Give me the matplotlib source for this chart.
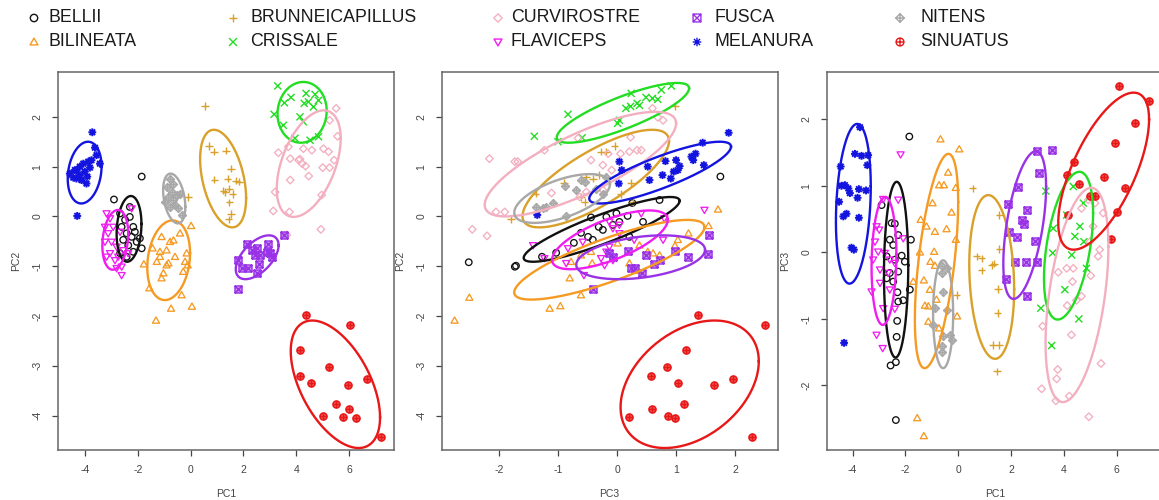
import numpy as np
import matplotlib
matplotlib.use("Agg")
import matplotlib.pyplot as plt
from matplotlib.path import Path

plt.rcParams["font.family"] = ["Liberation Sans", "DejaVu Sans"]

SPECIES = ["BELLII", "BILINEATA", "BRUNNEICAPILLUS", "CRISSALE", "CURVIROSTRE",
           "FLAVICEPS", "FUSCA", "MELANURA", "NITENS", "SINUATUS"]
COLORS = ["#111111", "#F59A23", "#D9A02A", "#22DD22", "#F3AFC0",
          "#F01DF0", "#9932E6", "#1414E0", "#A8A8A8", "#E81818"]

# PC1 vs PC2 scores
PC1_PC2 = {
    "BELLII": [(-1.85, 0.80), (-2.90, 0.34), (-2.67, 0.06), (-2.48, -0.07), (-2.30, -0.01), (-2.17, -0.21),
               (-2.42, -0.34), (-2.55, -0.47), (-2.23, -0.41), (-2.04, -0.51), (-1.92, -0.44), (-2.36, -0.58),
               (-2.17, -0.71), (-1.85, -0.64), (-2.61, -0.21), (-2.30, 0.19), (-2.42, -0.81), (-2.67, -0.74),
               (-2.11, -0.31)],
    "BILINEATA": [(0.02, -0.19), (-0.40, -0.34), (-1.10, -0.41), (-0.78, -0.51), (-0.65, -0.48), (-1.44, -0.64),
                  (-1.16, -0.71), (-0.91, -0.68), (-0.15, -0.74), (-1.77, -0.96), (-1.28, -0.91), (-0.91, -0.98),
                  (-0.28, -1.11), (-0.11, -0.98), (-1.10, -1.24), (-1.56, -1.44), (-0.74, -1.85), (-0.34, -1.58),
                  (0.05, -1.81), (-1.31, -2.09), (-1.16, -0.81), (-0.84, -0.94), (-0.59, -0.81), (-0.21, -0.91),
                  (-1.03, -1.14)],
    "BRUNNEICAPILLUS": [(0.55, 2.22), (0.70, 1.41), (0.89, 1.30), (1.33, 1.32), (1.53, 0.96), (0.90, 0.74),
                        (1.40, 0.76), (1.72, 0.72), (1.83, 0.70), (1.24, 0.52), (1.47, 0.56), (1.59, 0.45),
                        (1.47, 0.28), (1.52, 0.05), (1.44, -0.06), (-0.09, 0.39), (1.32, 0.49)],
    "CRISSALE": [(3.30, 2.62), (3.16, 2.05), (3.55, 2.28), (3.80, 2.39), (4.37, 2.47), (4.71, 2.45),
                 (4.84, 2.33), (4.46, 2.30), (4.65, 2.20), (4.14, 2.00), (4.27, 1.90), (3.51, 1.83),
                 (3.95, 1.57), (4.52, 1.53), (4.84, 1.60), (4.30, 2.27)],
    "CURVIROSTRE": [(5.51, 2.17), (5.26, 1.93), (5.56, 1.61), (3.32, 1.28), (3.70, 1.40), (4.27, 1.36),
                    (4.59, 1.33), (5.03, 1.36), (5.22, 1.30), (3.77, 1.16), (4.09, 1.13), (4.22, 1.06),
                    (4.35, 1.01), (5.00, 0.98), (5.26, 0.98), (5.43, 1.13), (4.47, 0.81), (3.77, 0.73),
                    (3.20, 0.49), (4.96, 0.43), (3.13, 0.11), (3.74, 0.09), (4.93, -0.26), (3.64, -0.37),
                    (4.14, 1.15)],
    "FLAVICEPS": [(-3.18, 0.06), (-3.05, -0.04), (-3.24, -0.51), (-3.12, -0.34), (-2.93, -0.21), (-2.80, -0.61),
                  (-3.05, -0.74), (-2.86, -0.88), (-2.61, -1.01), (-2.61, -1.18), (-2.74, -0.81), (-2.55, -0.68),
                  (-3.18, -0.81), (-2.99, -0.51), (-2.67, -0.31), (-2.23, 0.16), (-3.24, -0.21), (-2.36, -0.74),
                  (-2.80, -1.04)],
    "FUSCA": [(3.54, -0.37), (2.14, -0.55), (2.94, -0.56), (1.81, -0.88), (2.31, -0.68), (2.50, -0.64),
              (2.44, -0.78), (2.63, -0.78), (2.89, -0.71), (2.60, -0.96), (2.19, -1.04), (1.93, -1.04),
              (2.50, -1.14), (3.07, -0.81), (1.78, -1.45), (3.01, -0.74)],
    "MELANURA": [(-4.57, 0.86), (-4.38, 0.93), (-4.19, 1.00), (-4.06, 1.06), (-3.87, 1.10), (-3.75, 1.13),
                 (-3.56, 1.23), (-3.43, 1.06), (-4.32, 0.76), (-4.13, 0.73), (-3.94, 0.66), (-4.44, 0.78),
                 (-4.00, 0.90), (-3.81, 0.98), (-3.62, 1.38), (-3.72, 1.69), (-4.29, 0.01), (-4.19, 0.83),
                 (-3.91, 0.80), (-4.32, 0.93)],
    "NITENS": [(-0.78, 0.76), (-0.65, 0.66), (-0.91, 0.60), (-0.72, 0.50), (-0.53, 0.43), (-0.40, 0.46),
               (-0.97, 0.29), (-0.59, 0.23), (-0.78, 0.19), (-0.46, 0.16), (-0.34, 0.03), (-0.65, 0.33),
               (-0.84, 0.39)],
    "SINUATUS": [(4.37, -1.98), (6.05, -2.19), (4.14, -2.68), (4.14, -3.20), (5.22, -3.02), (4.56, -3.35),
                 (5.94, -3.38), (6.67, -3.27), (5.51, -3.77), (6.01, -3.87), (5.00, -4.01), (5.75, -4.03),
                 (6.27, -4.05), (7.21, -4.42)],
}

# PC3 vs PC2 scores
PC3_PC2 = {
    "BELLII": [(1.75, 0.80), (0.72, 0.33), (0.26, 0.27), (-0.44, -0.02), (-0.01, 0.06), (0.18, 0.01),
               (0.44, -0.11), (-0.31, -0.21), (-0.24, -0.27), (-0.61, -0.33), (-0.49, -0.41), (-0.41, -0.47),
               (-0.73, -0.53), (-1.03, -0.73), (-1.27, -0.81), (-1.71, -0.99), (-2.51, -0.92), (-1.73, -1.01),
               (0.21, -0.41), (-0.07, -0.17), (0.04, -0.11), (-0.18, -0.01)],
    "BILINEATA": [(1.71, 0.14), (1.55, -0.19), (1.21, -0.34), (1.03, -0.47), (0.98, -0.59), (0.61, -0.74),
                  (0.38, -0.58), (0.52, -0.71), (0.01, -0.54), (-0.44, -0.71), (-0.61, -0.78), (-0.78, -0.91),
                  (-0.42, -0.94), (0.21, -0.94), (-0.80, -1.24), (-0.61, -1.58), (-1.14, -1.85), (-0.96, -1.80),
                  (-2.50, -1.63), (-2.75, -2.09), (0.72, -0.78), (0.34, -1.09)],
    "BRUNNEICAPILLUS": [(0.98, 2.22), (-0.04, 1.41), (-0.27, 1.30), (-0.18, 1.30), (-0.53, 0.80), (-0.90, 0.68),
                        (0.24, 0.68), (0.06, 0.45), (-1.38, 0.46), (-0.61, 0.39), (-0.55, 0.29), (-1.79, -0.06),
                        (-0.30, 0.83), (0.27, 0.29), (-0.41, 0.76)],
    "CRISSALE": [(0.92, 2.62), (0.75, 2.54), (0.60, 2.37), (0.69, 2.35), (0.34, 2.27), (0.23, 2.21),
                 (0.15, 2.17), (0.38, 2.23), (0.01, 1.87), (0.04, 1.93), (-0.83, 2.05), (-1.40, 1.61),
                 (-1.00, 1.50), (-0.59, 1.58), (0.24, 2.47), (0.49, 2.39)],
    "CURVIROSTRE": [(0.60, 2.17), (0.69, 1.99), (0.78, 1.93), (0.23, 1.59), (0.06, 1.26), (0.21, 1.30),
                    (0.34, 1.33), (0.41, 1.33), (-0.44, 1.13), (-0.24, 1.03), (-0.15, 1.26), (-0.09, 0.93),
                    (-0.66, 1.57), (-1.23, 1.33), (-1.73, 1.10), (-1.68, 1.10), (-2.16, 1.16), (-2.05, 0.09),
                    (-1.90, 0.09), (-1.11, 0.47), (-2.45, -0.26), (-2.20, -0.39), (-0.63, 0.39), (-0.52, 0.49),
                    (-0.24, 0.53)],
    "FLAVICEPS": [(1.48, 0.13), (0.80, -0.04), (0.41, 0.06), (-0.13, -0.11), (0.04, -0.17), (-0.07, -0.24),
                  (-1.42, -0.58), (-0.83, -0.64), (-0.58, -0.51), (-0.13, -0.61), (-0.18, -0.71), (-0.27, -0.84),
                  (-0.07, -0.88), (-0.21, -0.98), (-0.86, -0.94), (-0.56, -1.18), (0.29, -0.47), (0.78, -0.47),
                  (0.04, -0.34), (-1.23, -0.84)],
    "FUSCA": [(1.55, -0.37), (1.54, -0.76), (1.20, -0.82), (0.99, -0.70), (0.73, -0.88), (0.49, -0.78),
              (0.63, -0.96), (0.18, -0.70), (0.30, -1.04), (0.23, -1.04), (0.43, -1.14), (-0.40, -1.45),
              (-0.14, -0.74), (-0.07, -0.81)],
    "MELANURA": [(1.89, 1.68), (1.45, 1.48), (1.33, 1.26), (1.29, 1.13), (1.47, 1.03), (1.00, 1.13),
                 (1.03, 0.93), (0.96, 0.90), (0.91, 0.76), (0.77, 0.83), (0.52, 1.00), (0.55, 0.73),
                 (0.08, 0.93), (0.04, 1.10), (0.03, 0.66), (-1.35, 0.03), (0.82, 1.11), (1.26, 1.20),
                 (1.06, 1.01)],
    "NITENS": [(-1.37, 0.18), (-1.26, 0.16), (-1.09, 0.26), (-0.86, 0.01), (-0.88, 0.61), (-0.61, 0.74),
               (-0.55, 0.70), (-0.35, 0.56), (-0.24, 0.46), (-0.18, 0.80), (-0.69, 0.53), (-1.20, 0.19)],
    "SINUATUS": [(1.37, -1.98), (2.51, -2.19), (1.17, -2.68), (0.84, -3.02), (0.57, -3.20), (1.03, -3.35),
                 (1.65, -3.38), (1.96, -3.27), (1.13, -3.77), (0.60, -3.87), (0.86, -4.01), (0.98, -4.05),
                 (0.21, -4.03), (2.29, -4.42)],
}

# PC1 vs PC3 scores
PC1_PC3 = {
    "BELLII": [(-1.85, 1.74), (-2.90, 0.71), (-2.52, 0.44), (-2.40, 0.43), (-2.27, 0.26), (-1.79, 0.19),
               (-2.59, 0.19), (-2.46, 0.11), (-2.14, -0.05), (-2.02, -0.14), (-2.27, -0.29), (-2.71, -0.39),
               (-2.59, -0.31), (-2.46, -0.44), (-1.83, -0.56), (-2.30, -0.60), (-2.08, -0.72), (-2.27, -0.74),
               (-2.31, -1.03), (-2.33, -1.27), (-2.36, -1.65), (-2.56, -1.70), (-2.36, -2.52), (-2.71, -0.06),
               (-2.40, -0.11)],
    "BILINEATA": [(-0.67, 1.70), (0.04, 1.55), (-0.38, 1.20), (-0.72, 1.01), (-0.54, 1.01), (-0.09, 0.97),
                  (-0.97, 0.74), (-1.42, 0.49), (-0.25, 0.60), (-1.20, 0.39), (-0.88, 0.31), (-0.44, 0.35),
                  (-0.09, 0.19), (-1.45, 0.00), (-0.91, 0.01), (-1.05, -0.14), (-0.88, -0.20), (-1.30, -0.42),
                  (-1.70, -0.44), (-1.07, -0.56), (-0.82, -0.71), (-1.26, -0.80), (-1.13, -1.04), (-0.73, -1.14),
                  (-0.04, -0.96), (-1.55, -2.49), (-1.30, -2.76), (-1.13, -0.81)],
    "BRUNNEICAPILLUS": [(0.55, 0.96), (0.70, -0.06), (0.89, -0.09), (0.89, -0.27), (1.27, -0.19), (1.35, -0.17),
                        (1.56, 0.05), (1.56, 0.56), (1.52, -0.55), (1.49, -0.91), (1.33, -1.39), (1.56, -1.39),
                        (1.48, -1.79), (-0.06, -0.64)],
    "CRISSALE": [(4.36, 0.99), (3.32, 0.92), (4.74, 0.74), (4.61, 0.39), (3.60, 0.36), (4.42, 0.24),
                 (4.76, 0.16), (4.30, -0.04), (3.58, -0.01), (4.86, -0.24), (4.04, -0.56), (3.13, -0.84),
                 (4.57, -1.00), (3.54, -1.40), (4.11, 0.56)],
    "CURVIROSTRE": [(4.93, 0.79), (5.18, 0.74), (5.49, 0.59), (5.11, 0.39), (4.67, 0.66), (4.99, 0.16),
                    (5.30, -0.06), (5.36, 0.04), (4.11, -0.24), (4.36, -0.24), (3.79, -0.30), (5.02, -0.35),
                    (4.33, -0.44), (4.67, -0.66), (4.48, -0.72), (4.13, -0.80), (4.29, -1.24), (3.20, -1.11),
                    (5.41, -1.67), (3.77, -1.76), (3.73, -1.90), (3.16, -2.05), (3.70, -2.23), (4.21, -2.16),
                    (4.95, -2.47)],
    "FLAVICEPS": [(-2.18, 1.47), (-2.84, 0.80), (-2.27, 0.79), (-3.09, 0.39), (-2.99, 0.34), (-2.08, 0.21),
                  (-3.15, 0.16), (-3.03, 0.01), (-2.78, -0.01), (-3.22, -0.11), (-2.59, -0.11), (-2.40, -0.16),
                  (-2.96, -0.26), (-2.65, -0.31), (-2.96, -0.46), (-2.59, -0.56), (-3.28, -0.59), (-2.84, -0.84),
                  (-2.40, -0.85), (-3.09, -1.24), (-2.86, -1.44)],
    "FUSCA": [(2.97, 1.53), (3.56, 1.54), (3.07, 1.19), (2.28, 0.98), (2.62, 0.64), (2.41, 0.48),
              (2.51, 0.43), (1.90, 0.73), (1.94, 0.30), (2.22, 0.23), (2.91, 0.17), (2.16, -0.15),
              (2.57, -0.15), (2.97, -0.14), (1.80, -0.40), (2.62, -0.66)],
    "MELANURA": [(-3.72, 1.88), (-3.91, 1.48), (-3.66, 1.45), (-3.41, 1.46), (-4.45, 1.29), (-3.44, 1.31),
                 (-4.29, 1.01), (-4.42, 1.00), (-4.16, 0.96), (-4.10, 0.89), (-3.76, 0.95), (-3.49, 0.93),
                 (-3.81, 0.82), (-4.51, 0.76), (-4.23, 0.58), (-4.35, 0.54), (-3.76, 0.52), (-4.04, 0.07),
                 (-3.95, 0.04), (-4.32, -1.36)],
    "NITENS": [(-0.63, -0.21), (-0.44, -0.24), (-0.63, -0.31), (-0.57, -0.59), (-0.88, -0.84), (-0.44, -0.86),
               (-0.94, -1.09), (-0.57, -1.26), (-0.31, -1.24), (-0.25, -1.31), (-0.63, -1.49), (-0.63, -1.41)],
    "SINUATUS": [(6.10, 2.50), (7.24, 2.28), (6.69, 1.95), (5.94, 1.65), (4.38, 1.36), (4.11, 1.16),
                 (5.52, 1.13), (4.59, 1.02), (6.32, 0.97), (4.99, 0.85), (5.19, 0.85), (4.17, 0.56),
                 (6.03, 0.60), (5.79, 0.20)],
}

# ellipses per group: centre x, centre y, half-width, half-height, correlation
ELL_PC1_PC2 = {
    "BELLII": (-2.33, -0.25, 0.47, 0.66, 0.15), "BILINEATA": (-0.83, -0.88, 0.81, 0.80, 0.18),
    "BRUNNEICAPILLUS": (1.23, 0.76, 0.87, 0.98, -0.40), "CRISSALE": (4.22, 2.09, 0.93, 0.61, 0.05),
    "CURVIROSTRE": (4.47, 1.06, 1.21, 1.07, 0.47), "FLAVICEPS": (-2.85, -0.47, 0.49, 0.60, 0.20),
    "FUSCA": (2.52, -0.82, 0.81, 0.44, 0.55), "MELANURA": (-4.01, 0.88, 0.64, 0.62, 0.20),
    "NITENS": (-0.62, 0.36, 0.42, 0.50, -0.33), "SINUATUS": (5.48, -3.37, 1.69, 1.28, -0.52),
}
ELL_PC3_PC2 = {
    "BELLII": (-0.26, -0.26, 1.32, 0.65, 0.88), "BILINEATA": (-0.13, -0.87, 1.61, 0.80, 0.82),
    "BRUNNEICAPILLUS": (-0.36, 0.76, 1.24, 0.98, 0.77), "CRISSALE": (0.10, 2.08, 1.12, 0.60, 0.82),
    "CURVIROSTRE": (-0.62, 1.05, 1.62, 1.05, 0.78), "FLAVICEPS": (-0.12, -0.47, 0.98, 0.59, 0.68),
    "FUSCA": (0.40, -0.82, 1.09, 0.44, 0.34), "MELANURA": (0.73, 0.88, 1.20, 0.62, 0.84),
    "NITENS": (-0.93, 0.36, 0.81, 0.49, 0.58), "SINUATUS": (1.23, -3.37, 1.17, 1.28, 0.36),
}
ELL_PC1_PC3 = {
    "BELLII": (-2.35, -0.26, 0.46, 1.32, 0.05), "BILINEATA": (-0.82, -0.13, 0.82, 1.61, 0.55),
    "BRUNNEICAPILLUS": (1.27, -0.37, 0.85, 1.23, -0.15), "CRISSALE": (4.18, 0.10, 0.93, 1.11, 0.44),
    "CURVIROSTRE": (4.50, -0.64, 1.19, 1.61, 0.45), "FLAVICEPS": (-2.81, -0.13, 0.47, 0.96, 0.10),
    "FUSCA": (2.52, 0.41, 0.81, 1.11, 0.52), "MELANURA": (-3.97, 0.73, 0.66, 1.20, 0.22),
    "NITENS": (-0.57, -0.93, 0.38, 0.81, 0.00), "SINUATUS": (5.51, 1.22, 1.72, 1.18, 0.66),
}


def seg_path(segs, base=None):
    verts, codes = [], []
    for a, b in segs:
        verts += [a, b]
        codes += [Path.MOVETO, Path.LINETO]
    p = Path(verts, codes)
    return Path.make_compound_path(base, p) if base is not None else p


d = 0.72
PLUS = [((-1, 0), (1, 0)), ((0, -1), (0, 1))]
CROSS = [((-d, -d), (d, d)), ((-d, d), (d, -d))]
square = Path([(-d, -d), (d, -d), (d, d), (-d, d), (-d, -d)],
              [Path.MOVETO, Path.LINETO, Path.LINETO, Path.LINETO, Path.CLOSEPOLY])
diamond = Path([(0, -1), (1, 0), (0, 1), (-1, 0), (0, -1)],
               [Path.MOVETO, Path.LINETO, Path.LINETO, Path.LINETO, Path.CLOSEPOLY])
tri_up = Path([(-1, -0.75), (1, -0.75), (0, 1), (-1, -0.75)],
              [Path.MOVETO, Path.LINETO, Path.LINETO, Path.CLOSEPOLY])
tri_dn = Path([(-1, 0.75), (1, 0.75), (0, -1), (-1, 0.75)],
              [Path.MOVETO, Path.LINETO, Path.LINETO, Path.CLOSEPOLY])

# R pch 1..10
MARKERS = [
    Path.unit_circle(),
    tri_up,
    seg_path(PLUS),
    seg_path(CROSS),
    diamond,
    tri_dn,
    seg_path(CROSS, square),
    seg_path(PLUS + CROSS),
    seg_path(PLUS, diamond),
    seg_path(PLUS, Path.unit_circle()),
]
SIZES = [22, 26, 30, 26, 30, 26, 26, 32, 32, 26]
# the crossed symbols print almost solid at this size
FILL_ALPHA = [0, 0, 0, 0, 0, 0, 0.55, 0, 0.55, 0.7]
LINE_W = [0.95, 0.95, 1.0, 1.0, 0.95, 0.95, 1.0, 1.4, 1.0, 1.1]


def ellipse(cx, cy, sx, sy, rho):
    t = np.linspace(0, 2 * np.pi, 240)
    x = cx + sx * np.cos(t)
    y = cy + sy * (rho * np.cos(t) + np.sqrt(1 - rho ** 2) * np.sin(t))
    return x, y


def face(i):
    if FILL_ALPHA[i] == 0:
        return "none"
    return matplotlib.colors.to_rgba(COLORS[i], FILL_ALPHA[i])


fig = plt.figure(figsize=(11.59, 5.0), dpi=100)

panels = [
    (0.050, PC1_PC2, ELL_PC1_PC2, "PC1", "PC2", (-5.02, 7.70), (-4.69, 2.90), np.arange(-4, 7, 2), np.arange(-4, 3, 1)),
    (0.381, PC3_PC2, ELL_PC3_PC2, "PC3", "PC2", (-2.97, 2.72), (-4.69, 2.90), np.arange(-2, 3, 1), np.arange(-4, 3, 1)),
    (0.7135, PC1_PC3, ELL_PC1_PC3, "PC1", "PC3", (-4.97, 7.76), (-2.97, 2.71), np.arange(-4, 7, 2), np.arange(-2, 3, 1)),
]

for left, pts, ells, xlab, ylab, xlim, ylim, xt, yt in panels:
    ax = fig.add_axes([left, 0.10, 0.290, 0.756])
    for i, sp in enumerate(SPECIES):
        xy = np.array(pts[sp])
        ax.scatter(xy[:, 0], xy[:, 1], marker=MARKERS[i], s=SIZES[i],
                   facecolors=face(i), edgecolors=COLORS[i], linewidths=LINE_W[i], zorder=3)
    for i, sp in enumerate(SPECIES):
        ex, ey = ellipse(*ells[sp])
        ax.plot(ex, ey, color=COLORS[i], lw=1.7, zorder=4)
    ax.set_xlim(*xlim)
    ax.set_ylim(*ylim)
    ax.set_xticks(xt)
    ax.set_yticks(yt)
    ax.set_xticklabels([str(v) for v in xt])
    ax.set_yticklabels([str(v) for v in yt], rotation=90, va="center")
    ax.tick_params(direction="out", length=4, width=0.9, colors="#444444",
                   labelsize=7.5, pad=7)
    for s in ax.spines.values():
        s.set_color("#666666")
        s.set_linewidth(1.1)
    ax.set_xlabel(xlab, fontsize=7.5, color="#444444", labelpad=10)
    ax.set_ylabel(ylab, fontsize=7.5, color="#444444", labelpad=8)

# legend across the top
leg = fig.add_axes([0, 0, 1, 1])
leg.set_xlim(0, 1159)
leg.set_ylim(500, 0)
leg.axis("off")
col_marker = [34, 233, 498, 697, 900]
col_text = [48, 250, 511, 715, 920]
row_y = [18, 42]
for i, sp in enumerate(SPECIES):
    c, r = i // 2, i % 2
    leg.scatter([col_marker[c]], [row_y[r]], marker=MARKERS[i], s=SIZES[i] + 6,
                facecolors="none", edgecolors=COLORS[i], linewidths=1.0)
    leg.text(col_text[c], row_y[r], sp, fontsize=12.8, color="#1a1a1a",
             va="center", ha="left")

fig.savefig("out.png", dpi=100)
